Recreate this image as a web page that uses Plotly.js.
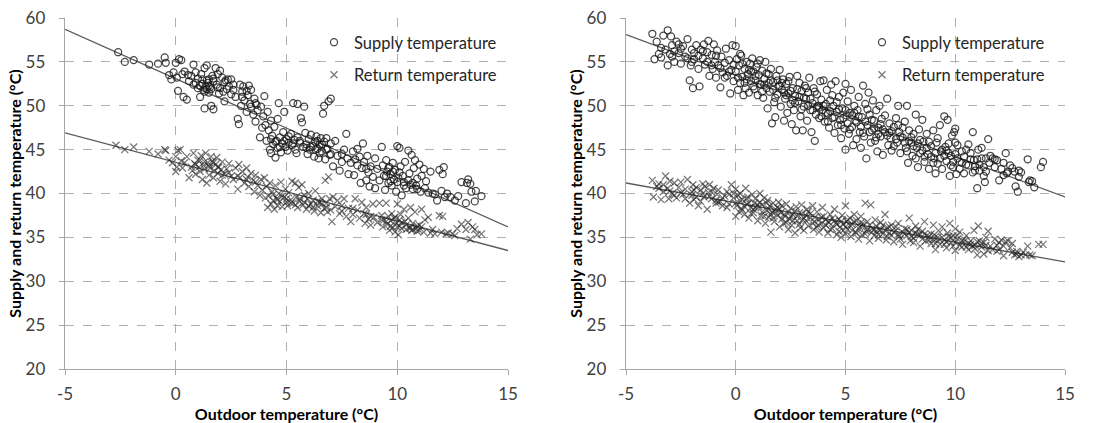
<!DOCTYPE html>
<html><head><meta charset="utf-8">
<script src="https://cdn.plot.ly/plotly-3.0.1.min.js"></script>
<style>html,body{margin:0;padding:0;background:#fff;}#chart{width:1106px;height:423px;}</style>
</head><body><div id="chart"></div>
<script>
// ---------- DATA ----------
const xTicks = [-5, 0, 5, 10, 15];
const yTicks = [20, 25, 30, 35, 40, 45, 50, 55, 60];
const seriesNames = ["Supply temperature", "Return temperature"];
const xTitle = "Outdoor temperature (°C)";
const yTitle = "Supply and return temperature (°C)";

// trend line end points [x, y]
const trendX = [-5, 15];
const leftSupplyTrend = [58.7, 36.2];
const leftReturnTrend = [46.9, 33.5];
const rightSupplyTrend = [58.1, 39.6];
const rightReturnTrend = [41.2, 32.2];

// left chart scatter: [outdoor, supply]
const leftSupply = [
[-2.6,56.1],[-2.3,55.0],[-1.9,55.2],[-1.2,54.7],[-0.8,54.8],[-0.5,55.5],[-0.45,54.9],[-0.3,53.5],[-0.2,53.0],[-0.1,53.8],[0.0,54.9],[0.05,53.2],[0.1,51.7],[0.15,55.3],[0.25,55.2],[0.3,53.6],[0.35,51.0],[0.5,50.7],[0.4,53.9],[0.55,53.5],
[0.6,52.8],[0.7,53.4],[0.8,54.7],[0.8,52.4],[0.9,53.8],[1.0,53.1],[1.0,52.0],[1.1,51.0],[1.15,53.6],[1.2,52.5],[1.25,51.8],[1.3,54.3],[1.3,49.7],[1.35,52.2],[1.4,54.6],[1.4,51.9],[1.45,52.6],[1.5,53.0],[1.5,51.5],[1.55,52.1],[1.6,50.0],[1.65,53.4],[1.7,52.8],[1.7,49.6],[1.8,54.3],[1.85,52.4],[1.9,53.6],[1.95,51.4],[2.0,54.0],[2.0,52.0],[2.1,53.2],[2.15,51.6],[2.2,50.5],[2.25,52.9],[2.3,51.9],[2.35,53.0],[2.4,52.2],[2.5,51.3],[2.5,53.0],[2.6,52.4],[2.7,51.0],
[2.8,48.5],[2.85,47.9],[2.9,52.4],[2.95,50.0],[3.0,51.6],[3.05,52.2],[3.1,50.6],[3.2,49.3],[3.25,51.2],[3.3,52.3],[3.35,50.2],[3.4,51.8],[3.5,49.0],[3.55,50.8],[3.6,48.2],[3.65,50.1],[3.7,49.5],[3.8,46.4],[3.85,49.9],[3.9,47.5],[3.95,48.8],[4.0,51.1],[4.05,47.8],
[4.1,46.0],[4.15,49.3],[4.2,47.2],[4.25,45.0],[4.3,44.6],[4.3,48.3],[4.35,46.6],[4.4,45.6],[4.45,47.6],[4.5,44.1],[4.55,46.0],[4.6,48.5],[4.6,45.2],[4.65,50.3],[4.7,46.4],[4.75,44.7],[4.8,45.7],[4.85,47.0],[4.9,49.3],[4.95,45.3],
[5.0,46.2],[5.05,44.9],[5.1,45.8],[5.2,46.8],[5.25,45.5],[5.3,50.3],[5.35,46.1],[5.4,45.0],[5.45,44.6],[5.5,50.2],[5.5,46.4],[5.6,45.8],[5.65,48.6],[5.7,48.1],[5.75,45.3],[5.8,49.9],[5.85,46.9],[5.9,45.6],[5.95,44.5],[6.0,46.2],[6.05,45.0],[6.1,46.7],[6.2,45.4],[6.25,44.2],[6.3,45.9],[6.35,46.5],[6.4,45.1],[6.45,44.0],[6.5,45.6],[6.55,46.3],[6.6,44.8],[6.65,49.1],[6.7,45.9],[6.7,50.0],[6.75,43.9],[6.8,46.3],[6.85,45.1],[6.9,50.5],[6.95,44.4],[7.0,50.8],[7.0,45.7],[7.1,43.1],
[7.2,46.0],[7.3,44.3],[7.4,42.6],[7.5,43.6],[7.6,45.0],[7.7,46.8],[7.75,44.0],[7.8,42.2],[7.9,43.5],[8.0,44.8],[8.05,42.1],[8.1,43.9],[8.2,45.1],[8.3,44.2],[8.35,41.2],[8.4,42.9],[8.45,45.7],[8.5,43.6],[8.6,41.5],[8.65,44.3],[8.7,42.4],[8.75,40.8],[8.8,43.1],[8.9,41.9],[9.0,44.0],[9.0,40.6],
[9.1,42.8],[9.2,41.5],[9.3,45.3],[9.35,43.2],[9.4,42.0],[9.45,40.4],[9.5,43.8],[9.55,42.5],[9.6,41.2],[9.65,43.0],[9.7,42.2],[9.75,40.9],[9.8,43.5],[9.85,41.6],[9.9,42.7],[9.95,40.2],[10.0,45.4],[10.05,41.8],[10.1,45.2],[10.15,43.1],[10.2,39.8],[10.25,42.0],[10.3,41.3],[10.35,43.6],[10.4,40.6],[10.5,44.9],[10.55,42.3],[10.6,41.0],[10.65,44.4],[10.7,40.5],[10.75,42.9],[10.8,43.8],[10.85,40.9],[10.9,41.7],[11.0,43.3],[11.05,40.2],[11.1,42.0],[11.2,42.8],[11.25,40.6],
[11.4,40.1],[11.5,42.5],[11.6,40.0],[11.8,39.2],[11.9,42.7],[12.0,40.3],[12.05,42.2],[12.1,43.0],[12.15,39.6],[12.25,40.0],[12.6,39.2],[12.75,39.7],[12.9,41.3],[13.1,38.9],[13.15,41.2],[13.2,41.6],[13.3,41.1],[13.35,40.2],[13.55,40.3],[13.5,39.1],[13.8,39.7],
[0.9,52.6],[1.1,52.3],[1.2,53.0],[1.3,51.6],[1.4,52.9],[1.5,52.3],[1.6,51.9],[1.7,53.1],[1.9,52.1],[2.2,52.7],[2.6,51.8],[3.0,51.0],[3.2,51.7],[3.4,49.9],[3.6,50.3],[4.3,46.2],[4.5,45.9],[4.7,45.3],[4.9,46.0],[5.1,46.5],[5.3,45.7],[5.6,46.0],[5.9,45.2],[6.1,45.3],[6.3,45.0],[6.4,46.0],[6.5,44.6],[6.6,45.6],[6.8,45.0],[7.0,44.5],[7.5,44.5],[8.2,43.2],[8.6,42.8],[9.5,42.0],[9.6,42.9],[9.7,41.4],[9.8,42.5],[10.0,41.3],[10.1,42.4],[10.3,40.9],[10.5,41.5],[10.7,41.2],[10.9,40.5],[11.3,41.4],[11.7,39.9],[12.4,39.6]
];

// left chart scatter: [outdoor, return]
const leftReturn = [
[-2.7,45.5],[-2.3,45.0],[-1.9,45.3],[-1.2,44.8],[-0.8,44.5],[-0.5,45.0],[-0.45,44.9],[-0.3,43.8],[-0.15,43.5],[0.0,42.5],[0.0,44.2],[0.05,43.0],[0.1,44.9],[0.2,45.0],[0.25,43.7],[0.3,42.9],[0.4,43.5],[0.5,44.2],[0.6,41.8],[0.7,43.0],
[0.75,42.6],[0.8,44.6],[0.85,43.4],[0.9,42.2],[1.0,43.8],[1.05,43.0],[1.1,42.5],[1.15,44.3],[1.2,41.6],[1.25,43.2],[1.3,42.8],[1.35,44.6],[1.4,41.2],[1.45,43.5],[1.5,42.1],[1.55,42.9],[1.6,44.2],[1.65,43.7],[1.7,41.8],[1.75,42.6],[1.8,43.3],[1.85,44.1],[1.9,42.3],[1.95,43.0],[2.0,41.4],[2.05,42.7],[2.1,43.6],[2.2,42.2],[2.25,41.1],[2.3,42.8],[2.4,43.4],[2.5,42.0],[2.6,41.6],
[2.7,42.9],[2.8,40.5],[2.85,43.3],[2.9,41.8],[3.0,42.5],[3.1,41.2],[3.2,42.9],[3.25,41.9],[3.3,40.8],[3.4,42.3],[3.5,41.5],[3.55,40.2],[3.6,42.1],[3.7,40.9],[3.8,39.8],[3.85,41.6],[3.9,40.4],[4.0,41.8],[4.05,39.5],
[4.1,40.8],[4.15,38.4],[4.2,39.7],[4.25,41.2],[4.3,38.8],[4.35,40.2],[4.4,39.2],[4.45,38.2],[4.5,40.9],[4.55,39.4],[4.6,38.6],[4.65,40.0],[4.7,39.1],[4.75,41.3],[4.8,38.5],[4.9,39.6],[4.95,40.5],
[5.0,39.0],[5.05,38.6],[5.1,40.1],[5.2,39.3],[5.25,41.4],[5.3,38.9],[5.4,41.2],[5.45,39.6],[5.5,38.4],[5.55,40.7],[5.6,39.1],[5.7,41.0],[5.75,38.7],[5.8,39.8],[5.9,38.2],[5.95,39.4],[6.0,40.0],[6.1,38.8],[6.2,39.2],[6.25,38.0],[6.3,40.3],[6.4,38.6],[6.5,39.0],[6.55,37.8],[6.6,39.4],[6.7,38.3],[6.75,41.5],[6.8,38.9],[6.85,37.9],[6.9,41.9],[6.95,39.4],[7.0,38.1],[7.05,36.8],[7.1,39.6],
[7.2,38.5],[7.3,39.2],[7.4,37.7],[7.5,38.0],[7.6,39.4],[7.7,37.4],[7.8,38.3],[7.9,36.8],[8.0,37.6],[8.1,39.4],[8.2,38.1],[8.3,37.2],[8.4,39.0],[8.5,37.7],[8.55,36.6],[8.6,38.4],[8.7,37.1],[8.8,36.4],[8.9,38.8],[8.95,37.3],
[9.1,36.7],[9.2,38.9],[9.3,37.5],[9.35,36.2],[9.4,37.0],[9.5,38.9],[9.55,36.5],[9.6,37.4],[9.65,35.8],[9.7,36.9],[9.75,37.7],[9.8,36.1],[9.85,37.2],[9.9,35.6],[9.95,36.6],[10.0,38.8],[10.05,35.3],[10.1,36.3],[10.15,37.6],[10.2,36.0],[10.3,38.2],[10.35,36.8],[10.4,35.9],[10.5,37.2],[10.55,36.1],[10.6,38.4],[10.65,35.8],[10.7,36.6],[10.8,37.9],[10.85,36.0],[10.9,35.7],[11.0,36.4],[11.1,38.2],[11.2,35.6],[11.25,37.0],
[11.4,37.3],[11.5,35.5],[11.7,35.4],[11.9,37.5],[12.0,35.6],[12.05,37.4],[12.2,35.4],[12.6,35.2],[12.7,36.0],[12.9,36.5],[13.1,35.9],[13.2,36.7],[13.3,34.8],[13.4,36.2],[13.5,35.9],[13.6,35.3],[13.8,35.4],
[0.9,43.3],[1.1,43.8],[1.3,43.6],[1.5,43.1],[1.7,43.5],[1.9,43.0],[2.1,42.1],[2.4,42.4],[2.8,42.0],[3.2,41.6],[3.6,41.3],[4.4,39.9],[4.6,39.3],[4.8,39.7],[5.0,39.4],[5.2,38.9],[5.4,38.7],[5.6,39.4],[5.8,39.0],[6.0,38.6],[6.2,38.4],[6.4,39.1],[6.6,38.8],[6.8,38.4],[7.5,38.6],[8.0,38.3],[8.6,37.6],[8.8,37.4],[9.3,37.0],[9.5,36.8],[9.7,36.3],[9.9,37.3],[10.0,36.2],[10.1,37.0],[10.2,36.7],[10.4,36.4],[10.6,36.1],[10.7,35.9],[10.9,36.3],[11.0,35.8],[11.1,36.2],[11.6,35.9],[12.3,35.5],[12.5,35.4]
];

// right chart scatter: [outdoor, supply]
const rightSupply = [
[-3.8,58.2],[-3.7,55.3],[-3.6,57.3],[-3.5,55.9],[-3.4,55.5],[-3.3,58.0],[-3.2,56.4],[-3.1,58.6],[-3.1,54.6],[-3.0,55.9],[-2.95,57.9],[-2.9,56.9],[-2.8,55.0],[-2.7,57.3],[-2.6,56.0],[-2.5,54.8],[-2.4,56.8],[-2.3,55.6],[-2.2,57.6],[-2.1,52.9],[-2.05,54.6],[-2.0,56.4],[-1.95,52.0],[-1.9,55.3],[-1.8,56.9],[-1.7,54.2],[-1.65,52.2],[-1.6,56.4],[-1.5,55.4],[-1.45,57.0],[-1.4,54.7],[-1.3,56.1],[-1.25,57.4],[-1.2,53.4],[-1.1,55.8],[-1.05,54.2],[-1.0,57.0],[-0.95,55.0],[-0.9,53.2],[-0.85,56.3],[-0.8,54.6],[-0.7,52.1],[-0.65,55.6],[-0.6,53.8],[-0.5,54.9],[-0.45,56.5],[-0.4,53.4],[-0.3,55.2],[-0.25,51.4],[-0.2,54.1],[-0.15,56.9],[-0.1,52.8],
[0.0,56.8],[0.0,53.9],[0.05,55.3],[0.1,51.8],[0.15,54.6],[0.2,52.6],[0.25,55.7],[0.3,53.3],[0.35,51.2],[0.4,54.2],[0.45,52.0],[0.5,55.0],[0.55,53.6],[0.6,51.5],[0.65,54.8],[0.7,52.8],[0.75,55.4],[0.8,53.9],[0.85,51.9],[0.9,52.9],[0.95,54.4],[1.0,51.2],[1.05,53.5],[1.1,55.2],[1.15,52.4],[1.2,54.0],[1.25,50.9],[1.3,53.1],[1.35,55.0],[1.4,52.0],[1.45,49.7],[1.5,53.6],[1.55,51.6],[1.6,54.2],[1.65,48.0],[1.7,52.7],[1.75,50.4],[1.8,48.7],[1.85,53.4],[1.9,51.3],[1.95,52.2],
[2.0,54.1],[2.05,49.9],[2.1,51.8],[2.15,53.0],[2.2,48.3],[2.25,50.8],[2.3,52.5],[2.35,49.2],[2.4,51.4],[2.45,53.3],[2.5,50.2],[2.55,47.9],[2.6,52.0],[2.65,49.5],[2.7,51.1],[2.75,47.2],[2.8,53.4],[2.85,50.5],[2.9,52.6],[2.95,48.8],[3.0,51.7],[3.05,47.2],[3.1,49.9],[3.15,52.3],[3.2,50.8],[3.25,48.3],[3.3,51.5],[3.35,53.2],[3.4,49.5],[3.45,47.0],[3.5,50.3],[3.55,52.0],[3.6,46.0],[3.65,49.0],[3.7,51.3],[3.75,50.0],[3.8,48.6],[3.85,52.8],[3.9,50.7],[3.95,49.5],
[4.0,52.9],[4.05,48.2],[4.1,50.2],[4.15,51.8],[4.2,49.1],[4.25,47.5],[4.3,50.6],[4.35,52.4],[4.4,48.6],[4.45,50.0],[4.5,46.9],[4.55,52.8],[4.6,49.3],[4.65,47.8],[4.7,51.0],[4.75,48.4],[4.8,46.3],[4.85,49.7],[4.9,51.5],[4.95,47.4],
[5.0,45.0],[5.0,52.5],[5.05,48.9],[5.1,50.5],[5.15,46.8],[5.2,49.2],[5.25,51.8],[5.3,47.6],[5.35,45.5],[5.4,50.0],[5.45,48.3],[5.5,46.2],[5.55,49.5],[5.6,51.0],[5.65,47.0],[5.7,45.2],[5.75,48.7],[5.8,52.3],[5.85,46.5],[5.9,50.2],[5.95,44.0],
[6.0,47.8],[6.05,51.5],[6.1,49.0],[6.15,45.8],[6.2,47.2],[6.25,50.6],[6.3,48.3],[6.35,46.0],[6.4,49.5],[6.45,44.8],[6.5,47.5],[6.55,50.0],[6.6,46.5],[6.65,48.5],[6.7,44.4],[6.8,47.0],[6.9,50.8],[6.95,45.5],
[7.0,48.0],[7.05,46.3],[7.1,44.9],[7.2,47.6],[7.3,48.6],[7.35,45.8],[7.4,50.0],[7.45,47.0],[7.5,44.6],[7.6,46.4],[7.7,48.2],[7.75,45.2],[7.8,50.0],[7.85,43.5],[7.9,47.2],
[8.0,45.8],[8.05,44.3],[8.1,46.8],[8.2,49.0],[8.25,45.2],[8.3,43.0],[8.35,47.3],[8.4,44.6],[8.5,48.4],[8.55,45.9],[8.6,43.6],[8.7,46.8],[8.75,44.5],[8.8,42.8],[8.9,45.4],
[9.0,47.2],[9.05,44.0],[9.1,42.3],[9.15,45.8],[9.2,43.4],[9.3,47.8],[9.35,44.8],[9.4,42.8],[9.5,48.8],[9.55,45.3],[9.6,43.7],[9.65,48.4],[9.7,45.7],[9.75,42.0],[9.8,44.3],[9.85,46.6],[9.9,43.0],[9.95,47.0],
[10.0,44.5],[10.0,47.4],[10.05,42.2],[10.1,45.5],[10.2,43.6],[10.3,44.8],[10.4,42.3],[10.5,45.0],[10.6,43.2],[10.7,44.6],[10.8,47.0],[10.85,43.8],[10.9,42.6],
[11.0,40.6],[11.05,45.0],[11.1,43.3],[11.2,45.2],[11.3,42.0],[11.35,41.3],[11.4,44.0],[11.5,46.2],[11.55,43.5],[11.7,44.0],[11.8,43.0],[11.9,43.8],
[12.0,41.5],[12.1,42.8],[12.2,43.5],[12.3,44.6],[12.35,42.3],[12.5,43.2],[12.7,42.5],[12.75,40.8],[12.85,40.2],[12.9,42.6],[13.3,43.9],[13.35,41.3],[13.5,41.4],[13.6,40.7],[13.9,43.0],[14.0,43.6],
[-2.8,56.2],[-2.5,56.5],[-2.2,55.4],[-1.9,56.0],[-1.5,56.2],[-1.1,54.6],[-0.7,54.3],[-0.3,53.9],[0.1,53.2],[0.3,54.8],[0.5,53.0],[0.7,53.9],[0.9,53.4],[1.1,52.5],[1.3,52.4],[1.5,52.6],[1.7,51.8],[1.9,52.9],[2.1,52.6],[2.3,51.2],[2.5,51.7],[2.7,50.3],[2.9,51.0],[3.1,50.9],[3.3,50.0],[3.5,49.5],[3.7,49.9],[3.9,48.8],[4.1,49.2],[4.3,49.4],[4.5,48.7],[4.7,49.6],[4.9,48.6],[5.1,48.0],[5.3,48.9],[5.5,48.1],[5.7,47.6],[5.9,48.2],[6.1,47.0],[6.3,47.4],[6.5,46.8],[6.7,47.3],[6.9,46.6],[7.1,47.1],[7.3,46.2],[7.5,46.5],[7.7,45.8],[7.9,46.0],[8.1,45.4],[8.3,45.7],[8.5,44.9],[8.7,45.2],[8.9,44.2],[9.1,44.6],[9.3,44.0],[9.5,44.3],[9.7,44.6],[9.9,43.6],[10.1,44.0],[10.3,43.5],[10.5,43.3],[10.7,43.9],[10.9,43.1],[11.1,42.6],[11.3,43.0],[11.6,44.3],[12.4,42.5],[12.6,42.9],[13.0,42.4],[13.4,41.5],
[-3.4,56.6],[-2.9,55.6],[-2.6,57.0],[-2.0,55.0],[-1.7,55.7],[-1.3,55.0],[-0.9,55.7],[-0.5,53.2],[-0.1,54.7],[0.2,55.9],[0.4,52.6],[0.6,54.1],[0.8,52.2],[1.0,54.8],[1.2,51.6],[1.4,53.7],[1.6,52.9],[1.8,50.9],[2.0,52.3],[2.2,51.5],[2.4,52.8],[2.6,50.6],[2.8,51.9],[3.0,49.6],[3.2,52.0],[3.4,50.8],[3.6,51.6],[3.8,49.8],[4.0,50.0],[4.2,48.2],[4.4,51.2],[4.6,50.4],[4.8,47.8],[5.0,49.5],[5.2,47.3],[5.4,49.2],[5.6,48.8],[5.8,46.9],[6.0,49.6],[6.2,48.4],[6.4,46.4],[6.6,47.9],[6.8,48.9],[7.0,46.9],[7.2,45.4],[7.4,47.8],[7.6,47.5],[7.8,44.8],[8.0,46.4],[8.2,44.0],[8.4,46.1],[8.6,44.2],[8.8,45.9],[9.0,43.5],[9.2,46.3],[9.4,45.0],[9.6,44.9],[9.8,43.2],[10.0,45.8],[10.2,42.8],[10.4,44.2],[10.6,45.6],[10.8,42.4],[11.0,43.9],[11.2,44.0],[11.4,42.5],[11.8,43.9],[12.2,42.1],[12.9,41.9]
];

// right chart scatter: [outdoor, return]
const rightReturn = [
[-3.8,41.5],[-3.75,39.6],[-3.6,40.8],[-3.5,41.1],[-3.4,39.3],[-3.3,40.2],[-3.2,42.0],[-3.1,40.6],[-3.05,39.4],[-3.0,41.4],[-2.9,40.0],[-2.8,41.2],[-2.7,39.5],[-2.6,40.7],[-2.5,41.3],[-2.4,39.9],[-2.3,40.5],[-2.2,41.6],[-2.1,38.9],[-2.0,40.2],[-1.95,41.0],[-1.9,39.3],[-1.8,40.7],[-1.7,38.6],[-1.6,40.4],[-1.5,41.1],[-1.45,39.6],[-1.4,40.8],[-1.3,38.2],[-1.25,40.1],[-1.2,41.0],[-1.1,39.4],[-1.0,40.6],[-0.9,38.9],[-0.85,39.9],[-0.8,40.4],[-0.7,39.1],[-0.6,38.6],[-0.5,39.7],[-0.4,40.2],[-0.3,38.8],[-0.2,41.0],[-0.1,39.5],
[0.0,37.4],[0.0,40.5],[0.05,38.6],[0.1,39.8],[0.15,37.9],[0.2,40.0],[0.25,38.3],[0.3,39.3],[0.4,37.6],[0.45,40.6],[0.5,38.8],[0.55,39.6],[0.6,37.2],[0.7,38.4],[0.75,39.9],[0.8,37.8],[0.85,38.9],[0.9,39.4],[1.0,36.9],[1.05,38.5],[1.1,40.0],[1.15,37.5],[1.2,38.7],[1.3,39.5],[1.35,36.6],[1.4,38.1],[1.45,39.2],[1.5,37.3],[1.55,38.6],[1.6,35.6],[1.65,37.9],[1.7,38.9],[1.75,36.8],[1.8,38.2],[1.9,37.5],[1.95,39.0],
[2.0,36.2],[2.05,37.8],[2.1,38.6],[2.2,36.6],[2.25,37.4],[2.3,38.8],[2.4,35.9],[2.45,37.1],[2.5,38.3],[2.55,36.4],[2.6,37.6],[2.7,35.5],[2.75,38.5],[2.8,36.9],[2.9,37.8],[2.95,36.1],[3.0,38.7],[3.05,37.0],[3.1,35.8],[3.2,37.5],[3.25,38.2],[3.3,36.3],[3.4,37.2],[3.5,38.6],[3.55,35.9],[3.6,36.8],[3.7,37.9],[3.75,36.4],[3.8,35.6],[3.9,37.3],[3.95,38.4],
[4.0,36.1],[4.1,37.0],[4.2,35.5],[4.25,36.7],[4.3,37.6],[4.4,36.0],[4.5,38.2],[4.55,36.6],[4.6,35.3],[4.7,37.1],[4.75,36.2],[4.8,35.0],[4.85,37.5],[4.9,36.5],
[5.0,38.6],[5.0,35.4],[5.05,36.8],[5.1,35.9],[5.2,37.2],[5.25,35.1],[5.3,36.5],[5.4,37.6],[5.45,35.6],[5.5,36.9],[5.6,34.8],[5.65,36.2],[5.7,37.4],[5.75,35.3],[5.8,36.6],[5.9,38.9],[5.95,35.7],
[6.0,36.8],[6.1,34.6],[6.15,38.7],[6.2,36.0],[6.3,35.2],[6.35,37.0],[6.4,36.3],[6.5,34.9],[6.55,35.8],[6.6,36.7],[6.7,35.4],[6.8,37.6],[6.85,34.7],[6.9,36.1],
[7.0,35.5],[7.1,36.4],[7.2,34.5],[7.3,35.8],[7.4,36.6],[7.45,35.1],[7.6,34.2],[7.7,36.0],[7.8,35.2],[7.9,37.2],[7.95,34.6],
[8.0,35.8],[8.1,34.9],[8.2,36.3],[8.3,35.3],[8.4,34.0],[8.5,35.7],[8.6,36.8],[8.65,34.6],[8.8,35.1],[8.9,34.3],
[9.0,36.4],[9.05,35.3],[9.1,33.6],[9.2,35.0],[9.3,34.2],[9.4,36.2],[9.5,34.7],[9.6,33.8],[9.65,35.5],[9.75,36.6],[9.8,34.4],[9.9,35.2],
[10.0,33.5],[10.0,36.0],[10.1,34.8],[10.2,35.6],[10.3,33.9],[10.4,34.5],[10.5,35.2],[10.6,33.6],[10.7,34.6],[10.85,35.8],[10.9,34.1],
[11.0,33.0],[11.05,36.3],[11.2,34.3],[11.3,33.1],[11.4,35.0],[11.5,35.7],[11.6,34.0],[11.8,34.8],[11.9,34.1],
[12.0,33.6],[12.1,34.7],[12.2,32.9],[12.3,34.5],[12.5,33.8],[12.6,34.3],[12.7,33.0],[12.8,33.4],[12.9,32.8],[13.1,33.3],[13.3,34.0],[13.4,33.0],[13.5,32.9],[13.8,34.2],[14.0,34.2],
[-3.5,40.6],[-3.0,40.3],[-2.5,40.1],[-2.0,39.8],[-1.8,39.6],[-1.5,40.0],[-1.2,39.7],[-0.9,39.2],[-0.6,39.5],[-0.3,39.9],[0.0,38.9],[0.2,39.2],[0.4,38.5],[0.6,38.9],[0.8,38.2],[1.0,38.7],[1.2,37.9],[1.4,38.9],[1.6,37.6],[1.8,37.9],[2.0,38.2],[2.2,37.6],[2.4,37.9],[2.6,36.9],[2.8,37.4],[3.0,37.7],[3.2,36.9],[3.4,37.7],[3.6,37.3],[3.8,37.0],[4.0,37.4],[4.2,36.8],[4.4,37.2],[4.6,36.5],[4.8,36.8],[5.0,36.2],[5.2,36.4],[5.4,36.8],[5.6,36.0],[5.8,36.3],[6.0,35.9],[6.2,35.6],[6.4,35.7],[6.6,35.9],[6.8,35.8],[7.0,36.2],[7.2,35.6],[7.4,35.3],[7.6,35.6],[7.8,35.9],[8.0,35.1],[8.2,35.5],[8.4,35.3],[8.6,35.4],[8.8,34.7],[9.0,34.8],[9.2,34.6],[9.4,35.0],[9.6,34.5],[9.8,35.0],[10.0,34.4],[10.2,34.1],[10.4,34.8],[10.6,34.3],[10.8,34.0],[11.0,34.5],[11.2,33.9],[11.4,34.1],[11.7,33.6],[12.0,34.4],[12.4,34.6],[12.8,33.1],[13.2,33.0],
[-3.3,41.0],[-2.8,39.8],[-2.3,39.4],[-1.9,40.4],[-1.6,39.1],[-1.1,40.2],[-0.8,39.0],[-0.4,38.4],[-0.1,40.0],[0.3,38.1],[0.5,39.4],[0.7,37.7],[0.9,38.4],[1.1,39.0],[1.3,37.4],[1.5,38.2],[1.7,37.2],[1.9,38.4],[2.1,37.1],[2.3,36.7],[2.5,37.4],[2.7,38.0],[2.9,36.5],[3.1,37.2],[3.3,37.9],[3.5,36.6],[3.7,36.2],[3.9,36.6],[4.1,36.4],[4.3,35.9],[4.5,36.9],[4.7,35.7],[4.9,35.8],[5.1,37.0],[5.3,35.8],[5.5,35.5],[5.7,36.7],[5.9,35.4],[6.1,36.4],[6.3,35.9],[6.5,35.3],[6.7,36.4],[6.9,35.1],[7.1,35.2],[7.3,36.2],[7.5,34.8],[7.7,35.4],[7.9,35.6],[8.1,34.4],[8.3,35.9],[8.5,34.8],[8.7,35.2],[8.9,35.4],[9.1,34.3],[9.3,35.6],[9.5,34.2],[9.7,35.1],[9.9,34.0],[10.1,35.2],[10.3,34.6],[10.5,33.9],[10.7,34.2],[10.9,33.7],[11.1,34.6],[11.3,34.4],[11.5,33.5],[11.9,33.4],[12.2,34.0],[12.6,33.3],[13.0,33.0]
];

// ---------- STYLE ----------
const FONT = "Lato, 'Open Sans', sans-serif";
const circleMarker = {symbol: "circle-open", size: 7, color: "rgba(25,25,25,0.8)", line: {width: 1.25}};
const crossMarker = {symbol: "x-thin-open", size: 7, color: "rgba(35,35,35,0.62)", line: {width: 1.25, color: "rgba(35,35,35,0.62)"}};
const lineStyle = {color: "#5a5a5a", width: 1.3};

function scatter(pts, name, marker, xa, ya, legend, show) {
  return {type: "scatter", mode: "markers", name: name, x: pts.map(p => p[0]), y: pts.map(p => p[1]),
          marker: marker, xaxis: xa, yaxis: ya, legend: legend, showlegend: show, legendgroup: name + legend,
          hoverinfo: "skip"};
}
function trend(ys, xa, ya) {
  return {type: "scatter", mode: "lines", x: trendX, y: ys, line: lineStyle, xaxis: xa, yaxis: ya,
          showlegend: false, hoverinfo: "skip"};
}

const traces = [
  trend(leftSupplyTrend, "x", "y"),
  trend(leftReturnTrend, "x", "y"),
  scatter(leftSupply, seriesNames[0], circleMarker, "x", "y", "legend", true),
  scatter(leftReturn, seriesNames[1], crossMarker, "x", "y", "legend", true),
  trend(rightSupplyTrend, "x2", "y2"),
  trend(rightReturnTrend, "x2", "y2"),
  scatter(rightSupply, seriesNames[0], circleMarker, "x2", "y2", "legend2", true),
  scatter(rightReturn, seriesNames[1], crossMarker, "x2", "y2", "legend2", true)
];

function xAxis(domain, anchor) {
  return {domain: domain, anchor: anchor, range: [-5, 15], tickvals: xTicks, ticktext: xTicks.map(String),
          showgrid: true, gridcolor: "#b0b0b0", griddash: "dash", gridwidth: 1,
          showline: true, linecolor: "#a6a6a6", linewidth: 1.3, ticks: "outside", ticklen: 5, tickcolor: "#a6a6a6",
          ticklabelstandoff: 4,
          zeroline: false, tickfont: {family: FONT, size: 17, color: "#404040"},
          title: {text: xTitle, font: {family: FONT, size: 16, color: "#000", weight: "bold"}, standoff: 0}};
}
function yAxis(domain, anchor) {
  return {domain: domain, anchor: anchor, range: [20, 60], tickvals: yTicks, ticktext: yTicks.map(String),
          showgrid: true, gridcolor: "#b0b0b0", griddash: "dash", gridwidth: 1,
          showline: true, linecolor: "#a6a6a6", linewidth: 1.3, ticks: "outside", ticklen: 5, tickcolor: "#a6a6a6",
          ticklabelstandoff: 10,
          zeroline: false, tickfont: {family: FONT, size: 17, color: "#404040"},
          title: {text: yTitle, font: {family: FONT, size: 16, color: "#000", weight: "bold"}, standoff: 0}};
}

const legendBase = {bgcolor: "rgba(0,0,0,0)", font: {family: FONT, size: 16.5, color: "#262626"},
                    traceorder: "grouped", tracegroupgap: 8, itemsizing: "trace",
                    xanchor: "right", yanchor: "top", y: 0.98};

const layout = {
  width: 1106, height: 423,
  margin: {l: 0, r: 0, t: 18, b: 54},
  paper_bgcolor: "#fff", plot_bgcolor: "#fff",
  showlegend: true,
  xaxis: xAxis([65/1106, 508/1106], "y"),
  yaxis: yAxis([0, 1], "x"),
  xaxis2: xAxis([626/1106, 1065/1106], "y2"),
  yaxis2: yAxis([0, 1], "x2"),
  legend: Object.assign({}, legendBase, {x: 502/1106}),
  legend2: Object.assign({}, legendBase, {x: 1050/1106})
};

Plotly.newPlot("chart", traces, layout, {staticPlot: true, displayModeBar: false});
</script>
</body></html>
